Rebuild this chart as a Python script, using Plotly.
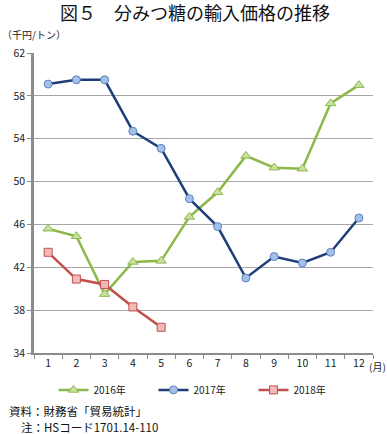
import plotly.graph_objects as go

months = list(range(1, 13))
tick_labels = [str(m) for m in months]
y_ticks = [34, 38, 42, 46, 50, 54, 58, 62]

v2016 = [45.6, 44.9, 39.5, 42.5, 42.6, 46.7, 49.0, 52.4, 51.3, 51.2, 57.3, 59.0]
v2017 = [59.1, 59.5, 59.5, 54.7, 53.1, 48.4, 45.8, 41.0, 43.0, 42.4, 43.4, 46.6]
v2018 = [43.4, 40.9, 40.4, 38.3, 36.4]

FONT = "Noto Sans CJK JP"

fig = go.Figure()
series = [
    ("2016年", v2016, "#8cb84a", "#c8e0a0", "triangle-up", 9),
    ("2017年", v2017, "#1f3e78", "#a4bfe8", "circle", 8),
    ("2018年", v2018, "#c0504d", "#f2b9b8", "square", 8),
]
edge = {"2016年": "#8cb84a", "2017年": "#5a82c0", "2018年": "#c0504d"}
for name, vals, lc, fc, sym, ms in series:
    fig.add_trace(go.Scatter(
        x=months[:len(vals)], y=vals, name=name, mode="lines+markers",
        line=dict(color=lc, width=2.5),
        marker=dict(symbol=sym, size=ms, color=fc, line=dict(color=edge[name], width=1)),
    ))

fig.update_layout(
    width=387, height=434,
    margin=dict(l=34, r=14, t=53, b=81),
    paper_bgcolor="white", plot_bgcolor="white",
    font=dict(family=FONT, size=10, color="#222"),
    showlegend=True,
    legend=dict(orientation="h", x=0.5, xanchor="center", y=-0.123, yanchor="middle",
                font=dict(size=10), itemwidth=30,
                entrywidth=55, entrywidthmode="pixels"),
    xaxis=dict(range=[0.5, 12.5], tickmode="array", tickvals=months, ticktext=tick_labels,
               showgrid=False, zeroline=False, showline=True, linecolor="#8c8c8c", linewidth=1.5,
               ticks="", tickfont=dict(size=10.5),
               minor=dict(tickmode="array", tickvals=[i + 0.5 for i in range(0, 13)],
                          ticks="outside", ticklen=4, tickcolor="#8c8c8c", showgrid=False)),
    yaxis=dict(range=[34, 62], tickmode="array", tickvals=y_ticks,
               showgrid=True, gridcolor="#a6a6a6", gridwidth=1, zeroline=False,
               showline=True, linecolor="#8c8c8c", linewidth=2.5,
               ticks="outside", ticklen=4, tickcolor="#8c8c8c", tickfont=dict(size=10.5)),
)

fig.add_annotation(text="図５　分みつ糖の輸入価格の推移", xref="paper", yref="paper",
                   x=(195 - 34) / 339, y=(53 - 12) / 300 + 1, xanchor="center", yanchor="middle",
                   showarrow=False, font=dict(size=18, family=FONT, color="#111"))
fig.add_annotation(text="（千円/トン）", xref="paper", yref="paper",
                   x=(0 - 34) / 339, y=(53 - 35) / 300 + 1, xanchor="left", yanchor="middle",
                   showarrow=False, font=dict(size=10, family=FONT))
fig.add_annotation(text="(月)", xref="paper", yref="paper",
                   x=(367 - 34) / 339, y=(353 - 366) / 300, xanchor="left", yanchor="middle",
                   showarrow=False, font=dict(size=10, family=FONT))
fig.add_annotation(text="資料：財務省「貿易統計」", xref="paper", yref="paper",
                   x=(7 - 34) / 339, y=(353 - 411) / 300, xanchor="left", yanchor="middle",
                   showarrow=False, font=dict(size=11.5, family=FONT, color="#111"))
fig.add_annotation(text="注：HSコード1701.14-110", xref="paper", yref="paper",
                   x=(19 - 34) / 339, y=(353 - 427) / 300, xanchor="left", yanchor="middle",
                   showarrow=False, font=dict(size=11.5, family=FONT, color="#111"))

fig.write_html("out.html", config={"displayModeBar": False},
               post_script="document.body.style.margin='0px';")
